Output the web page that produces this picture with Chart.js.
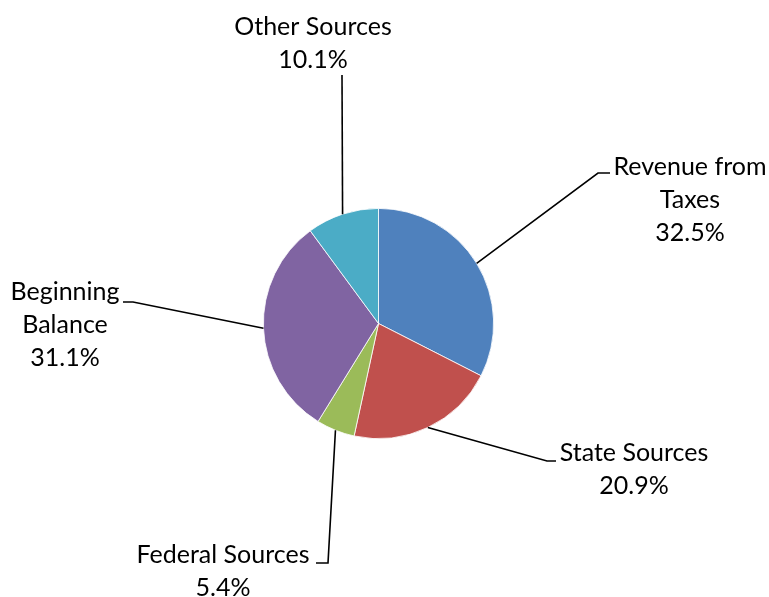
<!DOCTYPE html>
<html>
<head>
<meta charset="utf-8">
<script src="https://cdn.jsdelivr.net/npm/chart.js@4/dist/chart.umd.min.js"></script>
<style>
  html, body { margin: 0; padding: 0; background: #fff; }
  #wrap { width: 769px; height: 597px; position: relative; }
</style>
</head>
<body>
<div id="wrap"><canvas id="myChart"></canvas></div>
<script>
const categories = ["Revenue from Taxes", "State Sources", "Federal Sources", "Beginning Balance", "Other Sources"];
const shares = [32.5, 20.9, 5.4, 31.1, 10.1];
const colors = ["#4F81BD", "#C0504D", "#9BBB59", "#8064A2", "#4BACC6"];

// text lines per slice (the last line is the percentage)
const labelLines = [["Revenue from", "Taxes"], ["State Sources"], ["Federal Sources"], ["Beginning", "Balance"], ["Other Sources"]];

// where each label block sits and how its leader bends
const labelLayout = [
  { x: 690, y: 167, elbow: [598, 173], end: [610, 173] },
  { x: 634, y: 453, elbow: [547, 461], end: [556, 461] },
  { x: 223, y: 555, elbow: [328, 563], end: [316, 563] },
  { x: 65, y: 292, elbow: [133, 302], end: [123, 302] },
  { x: 313, y: 27, elbow: [342, 75], end: [342, 75] },
];

const FONT = "25px Lato";
const LINE_H = 33;

const calloutPlugin = {
  id: "callouts",
  afterDatasetsDraw(chart) {
    const ctx = chart.ctx;
    const meta = chart.getDatasetMeta(0);
    ctx.save();
    meta.data.forEach((arc, i) => {
      const mid = (arc.startAngle + arc.endAngle) / 2;
      const sx = arc.x + Math.cos(mid) * arc.outerRadius;
      const sy = arc.y + Math.sin(mid) * arc.outerRadius;
      const lay = labelLayout[i];

      ctx.strokeStyle = "#000";
      ctx.lineWidth = 1.6;
      ctx.beginPath();
      ctx.moveTo(sx, sy);
      ctx.lineTo(lay.elbow[0], lay.elbow[1]);
      ctx.lineTo(lay.end[0], lay.end[1]);
      ctx.stroke();

      const lines = [...labelLines[i], shares[i].toFixed(1) + "%"];
      ctx.fillStyle = "#000";
      ctx.font = FONT;
      ctx.textAlign = "center";
      ctx.textBaseline = "middle";
      lines.forEach((t, k) => ctx.fillText(t, lay.x, lay.y + k * LINE_H));
    });
    ctx.restore();
  },
};

new Chart(document.getElementById("myChart"), {
  type: "pie",
  data: {
    labels: categories,
    datasets: [
      {
        data: shares,
        backgroundColor: colors,
        borderColor: "#ffffff",
        borderWidth: 0.8,
      },
    ],
  },
  options: {
    responsive: true,
    maintainAspectRatio: false,
    animation: false,
    layout: { padding: { top: 208, bottom: 158, left: 263, right: 275 } },
    plugins: {
      legend: { display: false },
      tooltip: { enabled: false },
    },
  },
  plugins: [calloutPlugin],
});
</script>
</body>
</html>
